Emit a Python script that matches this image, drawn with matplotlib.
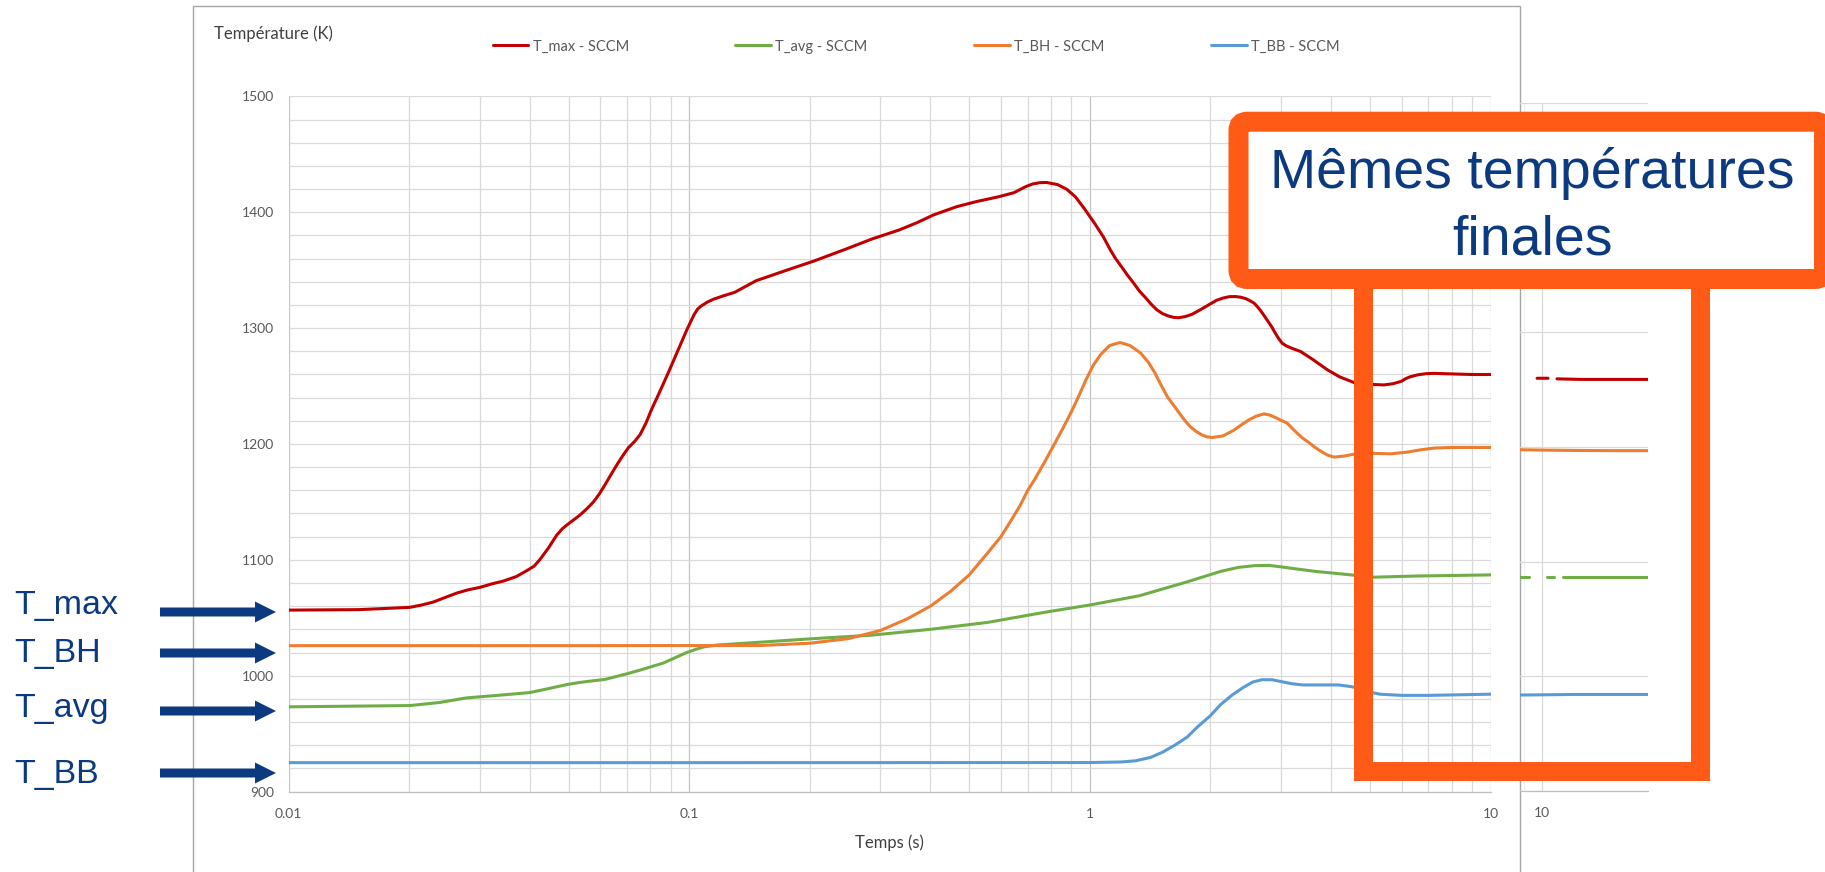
import numpy as np
import matplotlib
matplotlib.use("Agg")
import matplotlib.pyplot as plt
from matplotlib.patches import Rectangle, FancyBboxPatch, FancyArrow
from matplotlib.ticker import FixedLocator, NullFormatter

# ---------------------------------------------------------------- data
# Main run: time (s) / temperature (K) for each probe
t_max_t = [0.01, 0.015, 0.0201, 0.0215, 0.023, 0.0246, 0.0263, 0.028, 0.0301,
           0.032, 0.0344, 0.037, 0.0393, 0.041, 0.0424, 0.0445, 0.0467, 0.0483,
           0.0499, 0.0515, 0.0534, 0.0555, 0.0577, 0.0597, 0.0617, 0.0638, 0.066,
           0.0683, 0.0706, 0.073, 0.0754, 0.078, 0.0806, 0.0834, 0.0862, 0.0892,
           0.0922, 0.0953, 0.0985, 0.101, 0.103, 0.105, 0.107, 0.111, 0.115,
           0.122, 0.13, 0.147, 0.175, 0.205, 0.245, 0.286, 0.3345, 0.37, 0.4075,
           0.4655, 0.52, 0.593, 0.647, 0.692, 0.72, 0.75, 0.78, 0.8, 0.83, 0.875,
           0.92, 0.97, 1.03, 1.08, 1.125, 1.16, 1.2, 1.24, 1.287, 1.33, 1.38,
           1.42, 1.47, 1.52, 1.57, 1.62, 1.667, 1.73, 1.8, 1.9, 2.0, 2.07, 2.15,
           2.23, 2.31, 2.38, 2.45, 2.51, 2.57, 2.62, 2.67, 2.72, 2.77, 2.84, 2.9,
           2.96, 3.02, 3.1, 3.2, 3.36, 3.6, 3.92, 4.2, 4.57, 4.8, 5.0, 5.42, 5.7,
           5.98, 6.15, 6.3, 6.58, 6.9, 7.24, 8.0, 9.0, 10.0]
t_max_v = [1056.6, 1057, 1059, 1061, 1063.6, 1067.5, 1071.3, 1074, 1076.3, 1079,
           1081.7, 1085.5, 1090.6, 1094.5, 1100.2, 1110, 1121.3, 1127, 1131,
           1134.5, 1138.7, 1144, 1150, 1157, 1165, 1173.5, 1182, 1190, 1197, 1202,
           1208, 1218, 1230, 1241, 1252, 1263.5, 1275, 1286.5, 1298, 1306, 1312,
           1316.5, 1319, 1322.5, 1325, 1328, 1331, 1341, 1350, 1358, 1368, 1377,
           1384.8, 1391, 1397.8, 1404.9, 1409.2, 1413.5, 1417, 1422.2, 1424.5,
           1425.6, 1425.8, 1425, 1424, 1420, 1413.5, 1403, 1390, 1379, 1367.6,
           1360, 1353, 1346, 1338.8, 1332, 1326, 1321, 1315.8, 1312.5, 1310.5,
           1309.3, 1309, 1310, 1312, 1316.5, 1321, 1324, 1326, 1327.2, 1327.3,
           1326.7, 1325.5, 1323.7, 1321.6, 1318.5, 1315, 1311, 1307, 1301.5, 1296,
           1291, 1287, 1284.5, 1282.5, 1279.8, 1273, 1264, 1258, 1253, 1252,
           1251.5, 1251, 1252, 1254, 1256.5, 1258, 1259.7, 1260.7, 1261, 1260.5,
           1260, 1260]

t_bh_t = [0.01, 0.05, 0.1, 0.15, 0.2, 0.25, 0.3, 0.35, 0.4, 0.45, 0.5, 0.556, 0.6,
          0.636, 0.67, 0.7, 0.73, 0.77, 0.81, 0.855, 0.9, 0.94, 0.98, 1.02, 1.063,
          1.12, 1.19, 1.26, 1.34, 1.4, 1.45, 1.5, 1.56, 1.67, 1.72, 1.78, 1.84,
          1.9, 1.96, 2.02, 2.15, 2.29, 2.4, 2.5, 2.6, 2.72, 2.81, 2.9, 3.0, 3.11,
          3.2, 3.3, 3.4, 3.52, 3.65, 3.8, 3.93, 4.07, 4.3, 4.61, 5.0, 5.63, 6.2,
          6.7, 7.24, 8.0, 10.0]
t_bh_v = [1025.9, 1025.9, 1026, 1026, 1028, 1032, 1039, 1049, 1060, 1073, 1087,
          1106, 1120, 1134, 1147, 1160, 1170, 1184, 1198, 1213, 1228, 1242, 1256,
          1268, 1277, 1285, 1287.6, 1285, 1278.4, 1270.5, 1262, 1252, 1241, 1227,
          1221, 1215, 1211, 1208, 1206.2, 1205.6, 1207, 1212, 1217, 1221, 1224,
          1226, 1225, 1223, 1220.5, 1218, 1213.5, 1209, 1205, 1201.3, 1197, 1193,
          1190.3, 1188.7, 1189.5, 1191.5, 1192, 1191.5, 1193, 1195, 1196.5, 1197,
          1197]

t_avg_t = [0.01, 0.0201, 0.0239, 0.0278, 0.0325, 0.04, 0.0441, 0.0495, 0.0534,
           0.0617, 0.0706, 0.0754, 0.0862, 0.0985, 0.104, 0.109, 0.118, 0.1376,
           0.205, 0.286, 0.4, 0.556, 0.78, 1.0, 1.33, 1.75, 2.12, 2.35, 2.58,
           2.8, 2.99, 3.3, 3.66, 4.49, 5.1, 6.5, 10.0]
t_avg_v = [973.1, 974.2, 976.9, 980.8, 982.7, 985.4, 988.5, 992.3, 994.2, 996.8,
           1002, 1004.8, 1010.9, 1019.9, 1022.8, 1024.9, 1026.5, 1028, 1032, 1035,
           1040, 1046, 1055, 1061, 1069, 1081, 1090, 1093.5, 1095, 1095.2, 1094,
           1092, 1090, 1087, 1085, 1086, 1087]

t_bb_t = [0.01, 0.1, 1.0, 1.2, 1.3, 1.42, 1.52, 1.63, 1.75, 1.86, 2.0, 2.12, 2.27,
          2.42, 2.55, 2.69, 2.85, 2.99, 3.2, 3.4, 3.8, 4.17, 4.5, 4.8, 5.05, 5.3,
          6.0, 7.0, 10.0]
t_bb_v = [924.9, 924.9, 925, 925.5, 926.5, 929.5, 934, 940, 947, 956, 965.5, 975,
          983.5, 990, 994.5, 996.5, 996.5, 995, 993, 992, 992, 992, 990.5, 988,
          985.5, 984, 983, 983, 984]

# Second run, long-time end (gaps are missing samples)
late_max_t = [9.72, 10.35, 10.6, 10.9, 12.5, 15.0, 18.5]
late_max_v = [1260, 1260, np.nan, 1259.5, 1259, 1259, 1259]
late_avg_t = [8.8, 9.28, 9.8, 10.29, 10.71, 11.0, 11.28, 13.0, 15.5, 18.5]
late_avg_v = [1086.5, 1086.5, np.nan, 1086.5, 1086.5, np.nan, 1086.5, 1086.5,
              1086.5, 1086.5]
late_bh_t = [8.8, 10.0, 12.0, 15.0, 18.5]
late_bh_v = [1197.6, 1197.3, 1197, 1196.8, 1196.8]
late_bb_t = [8.8, 10.0, 12.0, 15.0, 18.5]
late_bb_v = [983.5, 983.7, 984, 984, 984]

series_names = ["T_max - SCCM", "T_avg - SCCM", "T_BH - SCCM", "T_BB - SCCM"]
side_labels = ["T_max", "T_BH", "T_avg", "T_BB"]
x_ticks = [0.01, 0.1, 1, 10]
x_tick_labels = ["0.01", "0.1", "1", "10"]
callout_lines = ["Mêmes températures", "finales"]

# ---------------------------------------------------------------- style
RED, GREEN, ORANGE, BLUE = "#C00000", "#70AD47", "#ED7D31", "#5B9BD5"
BOX = "#FF5A16"
NAVY = "#0C3A80"
GRID = "#d9d9d9"
GRID_MAJ = "#c4c4c4"
TICK_C = "#595959"
CHART_FONT = "Lato"
SLIDE_FONT = "Liberation Sans"
LW = 2.2

W, H = 1825, 872
fig = plt.figure(figsize=(W / 100, H / 100), dpi=100)


def frac_box(x0, y0, x1, y1):
    return [x0 / W, 1 - y1 / H, (x1 - x0) / W, (y1 - y0) / H]


# background layer: chart frame
bg = fig.add_axes([0, 0, 1, 1], zorder=0)
bg.set_xlim(0, W)
bg.set_ylim(H, 0)
bg.axis("off")
bg.add_patch(Rectangle((193.5, 6), 1519.6 - 193.5, H + 20, fill=False,
                       ec="#a6a6a6", lw=1.0))

# ---------------------------------------------------------------- main chart
ax = fig.add_axes(frac_box(288.5, 96.5, 1490.5, 791.5), zorder=1)
ax.set_facecolor("none")
ax.set_xscale("log")
ax.set_xlim(0.01, 10)
ax.set_ylim(900, 1500)
ax.set_xticks(x_ticks)
ax.set_xticklabels(x_tick_labels)
ax.xaxis.set_minor_locator(FixedLocator([k * 10.0 ** e for e in (-2, -1, 0)
                                         for k in range(2, 10)]))
ax.xaxis.set_minor_formatter(NullFormatter())
ax.set_yticks(np.arange(900, 1501, 100))
ax.set_yticks(np.arange(900, 1501, 20), minor=True)
ax.grid(True, which="minor", color=GRID, lw=0.9)
ax.grid(True, which="major", axis="y", color=GRID, lw=0.9)
ax.grid(True, which="major", axis="x", color=GRID_MAJ, lw=0.9)
ax.set_axisbelow(True)
for s in ("left", "right", "top"):
    ax.spines[s].set_visible(False)
ax.spines["bottom"].set_color("#bfbfbf")
ax.spines["bottom"].set_linewidth(0.9)
ax.tick_params(which="both", length=0, labelcolor=TICK_C, labelsize=10)
ax.tick_params(axis="y", pad=10.5)
ax.tick_params(axis="x", pad=12)
for lab in ax.get_xticklabels() + ax.get_yticklabels():
    lab.set_fontfamily(CHART_FONT)

line_kw = dict(lw=LW, solid_capstyle="round", solid_joinstyle="round")
l_max, = ax.plot(t_max_t, t_max_v, color=RED, **line_kw)
l_avg, = ax.plot(t_avg_t, t_avg_v, color=GREEN, **line_kw)
l_bh, = ax.plot(t_bh_t, t_bh_v, color=ORANGE, **line_kw)
l_bb, = ax.plot(t_bb_t, t_bb_v, color=BLUE, **line_kw)

ax.set_xlabel("Temps (s)", fontfamily=CHART_FONT, fontsize=12, color="#404040")
ax.xaxis.label.set_va("center")
ax.xaxis.set_label_coords((889 - 288.5) / 1202, (791.5 - 843) / 695)
ax.set_ylabel("Température (K)", fontfamily=CHART_FONT, fontsize=12,
              color="#404040", rotation=0, ha="left", va="center")
ax.yaxis.set_label_coords((213.5 - 288.5) / 1202, (791.5 - 33.5) / 695)

ax.legend([l_max, l_avg, l_bh, l_bb], series_names, ncol=4, frameon=False,
          loc="center left", bbox_to_anchor=(492.5 / W, 1 - 46.5 / H),
          bbox_transform=fig.transFigure, borderpad=0, borderaxespad=0,
          handlelength=2.45, handletextpad=0.3, columnspacing=7.3,
          prop={"family": CHART_FONT, "size": 10.5}, labelcolor=TICK_C)

# ---------------------------------------------------------------- late-time chart
ax2 = fig.add_axes(frac_box(1520, 103.3, 1648, 790.7), zorder=1)
ax2.set_facecolor("none")
ax2.set_xscale("log")
ax2.set_xlim(8.81, 18.4)
ax2.set_ylim(900, 1500)
ax2.set_xticks([10])
ax2.set_xticklabels(["10"])
ax2.xaxis.set_minor_locator(FixedLocator([9]))
ax2.xaxis.set_minor_formatter(NullFormatter())
ax2.set_yticks(np.arange(900, 1501, 100))
ax2.set_yticklabels([])
ax2.grid(True, which="major", color=GRID, lw=0.9)
ax2.grid(True, which="minor", axis="x", color="#f0f0f0", lw=0.9)
ax2.set_axisbelow(True)
for s in ("left", "right", "top"):
    ax2.spines[s].set_visible(False)
ax2.spines["bottom"].set_color("#bfbfbf")
ax2.spines["bottom"].set_linewidth(0.9)
ax2.tick_params(which="both", length=0, labelcolor=TICK_C, labelsize=10)
ax2.tick_params(axis="x", pad=12)
for lab in ax2.get_xticklabels():
    lab.set_fontfamily(CHART_FONT)

ax2.plot(late_max_t, late_max_v, color=RED, **line_kw)
ax2.plot(late_avg_t, late_avg_v, color=GREEN, **line_kw)
ax2.plot(late_bh_t, late_bh_v, color=ORANGE, **line_kw)
ax2.plot(late_bb_t, late_bb_v, color=BLUE, **line_kw)

# ---------------------------------------------------------------- slide annotations
ov = fig.add_axes([0, 0, 1, 1], zorder=5)
ov.set_xlim(0, W)
ov.set_ylim(H, 0)
ov.axis("off")
ov.patch.set_alpha(0)

label_y = [614, 662, 717, 783]
arrow_y = [612, 653, 711, 773]
for name, ty, ay in zip(side_labels, label_y, arrow_y):
    ov.text(14, ty, name, fontfamily=SLIDE_FONT, fontsize=24.5, color=NAVY,
            ha="left", va="baseline")
    ov.add_patch(FancyArrow(160, ay, 116, 0, width=9, head_width=21,
                            head_length=21, length_includes_head=True,
                            color=NAVY, lw=0))

# frame below the callout (open rectangle)
ov.add_patch(Rectangle((1363.5, 279), 1700.5 - 1363.5, 770.5 - 279, fill=False,
                       ec=BOX, lw=13.7, joinstyle="miter", zorder=2))
# callout box
ov.add_patch(FancyBboxPatch((1238.5, 121.7), 1824 - 1238.5, 279 - 121.7,
                            boxstyle="round,pad=0,rounding_size=9",
                            fc="white", ec=BOX, lw=14.4, zorder=3))
ov.text(1532.5, 187.7, callout_lines[0], fontfamily=SLIDE_FONT, fontsize=40,
        color=NAVY, ha="center", va="baseline", zorder=4)
ov.text(1532.5, 254, callout_lines[1], fontfamily=SLIDE_FONT, fontsize=40,
        color=NAVY, ha="center", va="baseline", zorder=4)

fig.savefig("out.png", dpi=100)
